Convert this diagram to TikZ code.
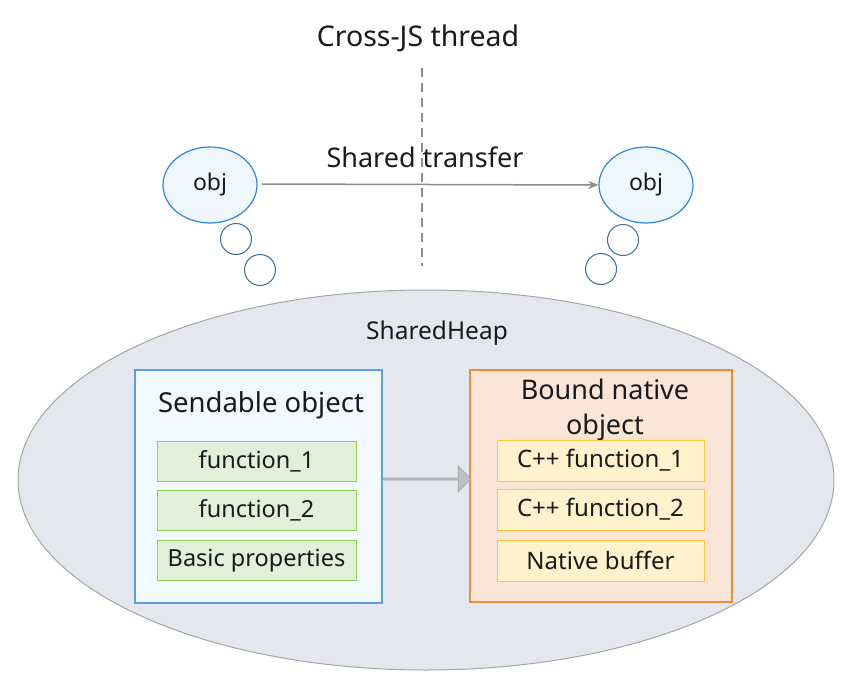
\documentclass[tikz,border=0pt]{standalone}
\usepackage{fontspec}
\setmainfont{Noto Sans}
\usetikzlibrary{arrows.meta,shapes.arrows,shapes.geometric}
\definecolor{objfill}{HTML}{EEF6FE}
\definecolor{objline}{HTML}{2F86E0}
\definecolor{bubline}{HTML}{3C6A98}
\definecolor{heapfill}{HTML}{E4E7EE}
\definecolor{heapline}{HTML}{A6A6A6}
\definecolor{sendfill}{HTML}{F1F9FE}
\definecolor{sendline}{HTML}{5A9FE2}
\definecolor{greenfill}{HTML}{E2EFD9}
\definecolor{greenline}{HTML}{92D050}
\definecolor{bindfill}{HTML}{FBE5D6}
\definecolor{bindline}{HTML}{EE8A3C}
\definecolor{yelfill}{HTML}{FFF2CC}
\definecolor{yelline}{HTML}{FFC83C}
\definecolor{arrgray}{HTML}{8C8C8C}
\definecolor{txt}{HTML}{1A1A1A}
\tikzset{
  objnode/.style={ellipse, draw=objline, fill=objfill, line width=1.2pt, minimum width=94pt, minimum height=76pt, inner sep=0pt, text=txt, font=\fontsize{23}{25}\selectfont},
  bubble/.style={circle, draw=bubline, fill=white, line width=1pt, minimum size=31pt, inner sep=0pt},
  greenbox/.style={draw=greenline, fill=greenfill, line width=1pt, minimum width=199pt, minimum height=40pt, inner sep=0pt, text=txt, font=\fontsize{23.5}{26}\selectfont},
  yelbox/.style={draw=yelline, fill=yelfill, line width=1pt, minimum width=207pt, minimum height=41pt, inner sep=0pt, text=txt, font=\fontsize{24}{26}\selectfont},
  lbl/.style={inner sep=0pt, text=txt},
}
\begin{document}
\begin{tikzpicture}[x=1pt,y=-1pt]
\useasboundingbox (0,0) rectangle (854,688);
\fill[white] (0,0) rectangle (854,688);
% title
\node[lbl, font=\fontsize{28.5}{30}\selectfont] (title) at (418,38) {Cross-JS thread};
\coordinate (dtop) at (422,68);
\coordinate (dbot) at (422,266);
\draw[arrgray, line width=1.5pt, dash pattern=on 9pt off 6pt] (dtop) -- (dbot);
% obj ellipses
\node[objnode] (objL) at (210,185) {obj};
\node[objnode] (objR) at (646,185) {obj};
\node[bubble] (bL1) at (236,239) {};
\node[bubble] (bL2) at (260,270) {};
\node[bubble] (bR1) at (623,240) {};
\node[bubble] (bR2) at (601,269) {};
\draw[arrgray, line width=1.5pt, -{Stealth[length=10pt,width=8pt]}] (objL.east) ++(4pt,1pt) coordinate (aS) -- (objR.west);
\node[lbl, font=\fontsize{27}{29}\selectfont] (st) at (425,157) {Shared transfer};
% heap
\node[ellipse, draw=heapline, fill=heapfill, line width=1pt, minimum width=816pt, minimum height=380pt, inner sep=0pt] (heap) at (426,480) {};
\node[lbl, font=\fontsize{24.5}{26}\selectfont] (heaplbl) at (437,333) {SharedHeap};
% sendable
\node[draw=sendline, fill=sendfill, line width=1.5pt, minimum width=247pt, minimum height=233pt, inner sep=0pt] (send) at (258.5,486.5) {};
\node[lbl, font=\fontsize{27.5}{30}\selectfont] (sendlbl) at (261,405) {Sendable object};
\node[greenbox] (g1) at (256.5,461) {function\_1};
\node[greenbox] (g2) at (256.5,510) {function\_2};
\node[greenbox] (g3) at (256.5,560.5) {Basic properties};
% bound native
\node[draw=bindline, fill=bindfill, line width=1.5pt, minimum width=262pt, minimum height=232pt, inner sep=0pt] (bind) at (601,486) {};
\node[lbl, font=\fontsize{27}{35}\selectfont, align=center] (bindlbl) at (605,410) {Bound native\\object};
\node[yelbox] (y1) at (600.5,460.5) {C++ function\_1};
\node[yelbox] (y2) at (600.5,509.5) {C++ function\_2};
\node[yelbox] (y3) at (600.5,560.5) {Native buffer};
% thick arrow
\node[single arrow, draw=heapline, fill=black!25, line width=0.8pt, minimum height=88pt, minimum width=26pt, single arrow head extend=5pt, single arrow tip angle=90, inner sep=0pt, anchor=west] (bigarrow) at (send.east |- 0,479) {};
\end{tikzpicture}
\end{document}
